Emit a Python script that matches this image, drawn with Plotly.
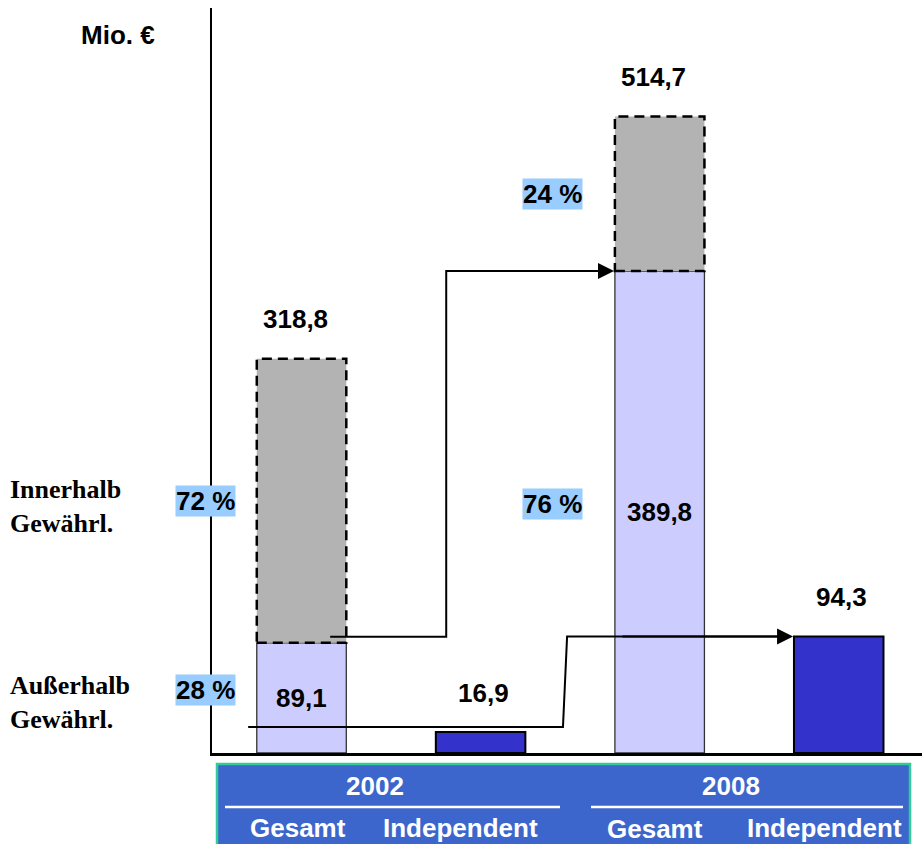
import plotly.graph_objects as go

# ---------------- data ----------------
categories = ["2002 Gesamt", "2002 Independent", "2008 Gesamt", "2008 Independent"]
years = ["2002", "2008"]
sub_labels = ["Gesamt", "Independent", "Gesamt", "Independent"]
gesamt_total = [318.8, 514.7]      # Mio. €
gesamt_lower = [89.1, 389.8]       # lower (lavender) segment
independent = [16.9, 94.3]         # Mio. €
row_labels = ["Innerhalb<br>Gewährl.", "Außerhalb<br>Gewährl."]
unit_label = "Mio. €"

gesamt_x = [0, 2]
indep_x = [1, 3]
upper = [round(t - l, 1) for t, l in zip(gesamt_total, gesamt_lower)]
pct_lower = [round(100 * l / t) for l, t in zip(gesamt_lower, gesamt_total)]
pct_upper = [100 - p for p in pct_lower]

def fmt(v):
    return f"{v:.1f}".replace(".", ",")

# ---------------- geometry helpers ----------------
W_FIG, H_FIG = 922, 844
ML, MR, MT, MB = 212, 0, 8, 91
PW, PH = W_FIG - ML - MR, H_FIG - MT - MB
BAR_W = 0.5

def px_x(p):
    return (p - ML) / PW

def px_y(p):
    return (H_FIG - MB - p) / PH

LAV = "#CCCCFF"
GREY = "#B3B3B3"
BLUE = "#3333CC"
PCT_BG = "#99CCFF"
BOX = "#3D66CC"
SANS = "Liberation Sans, Arial, sans-serif"
SERIF = "Liberation Serif, Times New Roman, serif"
FS = 26

fig = go.Figure()

fig.add_trace(go.Bar(x=gesamt_x, y=gesamt_lower, width=BAR_W,
                     marker=dict(color=LAV, line=dict(color="#333333", width=1.3)),
                     hoverinfo="skip"))
fig.add_trace(go.Bar(x=gesamt_x, y=upper, base=gesamt_lower, width=BAR_W,
                     marker=dict(color=GREY, line=dict(width=0)),
                     hoverinfo="skip"))
fig.add_trace(go.Bar(x=indep_x, y=independent, width=BAR_W,
                     marker=dict(color=BLUE, line=dict(color="black", width=2)),
                     hoverinfo="skip"))

# dashed outline of the grey segments
shapes = []
for xi, lo, tot in zip(gesamt_x, gesamt_lower, gesamt_total):
    shapes.append(dict(type="rect", xref="x", yref="y",
                       x0=xi - BAR_W / 2, x1=xi + BAR_W / 2, y0=lo, y1=tot,
                       line=dict(color="black", width=2.5, dash="10px,6px")))

# connector lines (2002 -> 2008)
c1_start_level = 94.1
c1_x = [0.16, 0.808, 0.808, gesamt_x[1] - BAR_W / 2 - 0.02]
c1_y = [c1_start_level, c1_start_level, gesamt_lower[1], gesamt_lower[1]]
c2_start_level = 21.0
c2_x = [-0.298, 1.46, 1.483, indep_x[1] - BAR_W / 2 - 0.02]
c2_y = [c2_start_level, c2_start_level, independent[1], independent[1]]
for cx, cy in [(c1_x, c1_y), (c2_x, c2_y)]:
    fig.add_trace(go.Scatter(x=cx, y=cy, mode="lines",
                             line=dict(color="black", width=2), hoverinfo="skip"))

ann = []
for cx, cy in [(c1_x, c1_y), (c2_x, c2_y)]:
    ann.append(dict(x=cx[-1] + 0.015, y=cy[-1], ax=cx[-2] + 0.3, ay=cy[-1],
                    xref="x", yref="y", axref="x", ayref="y", text="",
                    showarrow=True, arrowhead=2, arrowsize=1.6, arrowwidth=2,
                    arrowcolor="black", standoff=0))

# value labels
font_b = dict(family=SANS, size=FS, color="black", weight="bold")
for xi, tot in zip(gesamt_x, gesamt_total):
    ann.append(dict(x=xi, y=tot, xref="x", yref="y", text=fmt(tot), showarrow=False,
                    xanchor="center", yanchor="middle", yshift=40, xshift=-6, font=font_b))
for xi, lo in zip(gesamt_x, gesamt_lower):
    ann.append(dict(x=xi, y=lo / 2, xref="x", yref="y", text=fmt(lo), showarrow=False,
                    xanchor="center", yanchor="middle", font=font_b))
for xi, v in zip(indep_x, independent):
    ann.append(dict(x=xi, y=v, xref="x", yref="y", text=fmt(v), showarrow=False,
                    xanchor="center", yanchor="middle", yshift=39, xshift=3, font=font_b))

# percentage labels
pct_font = dict(family=SANS, size=FS, color="black", weight="bold")
pct_x = [dict(xref="paper", x=px_x(205.5)), dict(xref="x", x=1.403)]
for i in range(2):
    lo, tot = gesamt_lower[i], gesamt_total[i]
    ann.append(dict(**pct_x[i], y=(lo + tot) / 2, yref="y", text=f"{pct_upper[i]} %",
                    showarrow=False, bgcolor=PCT_BG, borderpad=0,
                    xanchor="center", yanchor="middle", font=pct_font))
    ann.append(dict(**pct_x[i], y=lo / 2, yref="y", text=f"{pct_lower[i]} %",
                    showarrow=False, bgcolor=PCT_BG, borderpad=0,
                    xanchor="center", yanchor="middle", yshift=8, font=pct_font))

# unit label
ann.append(dict(x=px_x(118), y=px_y(35), xref="paper", yref="paper", text=unit_label,
                showarrow=False, xanchor="center", yanchor="middle", font=font_b))

# row labels (serif)
serif_font = dict(family=SERIF, size=26, color="black", weight="bold")
for lbl, yc in zip(row_labels, [507, 702]):
    ann.append(dict(x=px_x(8), y=px_y(yc), xref="paper", yref="paper", text=lbl,
                    showarrow=False, xanchor="left", align="left", yanchor="middle",
                    font=serif_font))

# bottom category box
shapes.append(dict(type="rect", xref="paper", yref="paper",
                   x0=px_x(217), x1=px_x(910), y0=px_y(860), y1=px_y(764),
                   fillcolor=BOX, line=dict(color="#33CC99", width=2.5), layer="above"))
for x0, x1 in [(225, 560), (591, 903)]:
    shapes.append(dict(type="line", xref="paper", yref="paper",
                       x0=px_x(x0), x1=px_x(x1), y0=px_y(807), y1=px_y(807),
                       line=dict(color="white", width=2.5), layer="above"))
white_b = dict(family=SANS, size=FS, color="white", weight="bold")
for yr, xc in zip(years, [375, 731]):
    ann.append(dict(x=px_x(xc), y=px_y(786), xref="paper", yref="paper", text=yr,
                    showarrow=False, xanchor="center", yanchor="middle", font=white_b))
for lbl, xc, yc in zip(sub_labels, [297.5, 460, 654.5, 824.5], [828, 828, 829, 828]):
    ann.append(dict(x=px_x(xc), y=px_y(yc), xref="paper", yref="paper", text=lbl,
                    showarrow=False, xanchor="center", yanchor="middle", font=white_b))

fig.update_layout(
    width=W_FIG, height=H_FIG,
    margin=dict(l=ML, r=MR, t=MT, b=MB, pad=0),
    paper_bgcolor="white", plot_bgcolor="white",
    barmode="overlay", showlegend=False,
    xaxis=dict(range=[-0.5, 3.465], showline=True, linecolor="black", linewidth=2.5,
               showticklabels=False, ticks="", showgrid=False, zeroline=False),
    yaxis=dict(range=[0, 602.5], showline=True, linecolor="black", linewidth=2,
               showticklabels=False, ticks="", showgrid=False, zeroline=False),
    shapes=shapes, annotations=ann,
)

fig.write_html("out.html", config={"displayModeBar": False},
               post_script="document.body.style.margin='0';document.body.style.overflow='hidden';")
